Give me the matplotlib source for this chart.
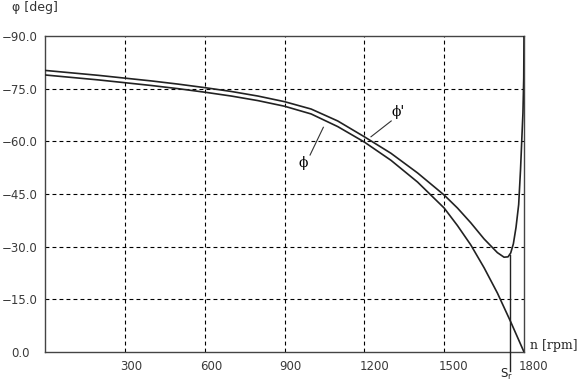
import numpy as np
import matplotlib
matplotlib.use('Agg')
import matplotlib.pyplot as plt
import matplotlib.ticker as tkr
from matplotlib.transforms import ScaledTranslation

# phase angle vs. speed
n_phi = [0, 100, 200, 300, 400, 500, 600, 700, 800, 900, 1000, 1100, 1200, 1300, 1400,
         1500, 1550, 1600, 1650, 1700, 1750, 1800]
phi = [-78.9, -78.2, -77.5, -76.7, -75.9, -75.0, -74.0, -72.9, -71.6, -70.0, -67.8, -64.2, -59.8,
       -54.6, -48.4, -41.0, -36.0, -30.5, -24.0, -16.8, -8.6, 0.0]

n_phi2 = [0, 100, 200, 300, 400, 500, 600, 700, 800, 900, 1000, 1100, 1200, 1300, 1400,
          1500, 1550, 1600, 1650, 1700, 1725, 1740, 1750, 1760, 1770, 1780, 1787, 1792,
          1796, 1799, 1800]
phi2 = [-80.2, -79.5, -78.8, -78.0, -77.2, -76.3, -75.3, -74.2, -72.9, -71.3, -69.2, -65.8, -61.3,
        -56.6, -51.0, -44.7, -41.0, -36.8, -32.2, -28.3, -27.0, -27.1, -28.2, -30.8, -35.5, -42.0,
        -52.0, -61.0, -68.0, -78.0, -90.0]

n_sr = 1746
phi2_sr = -27.6

x_ticks = [300, 600, 900, 1200, 1500, 1800]
y_ticks = [0, -15, -30, -45, -60, -75, -90]

figure = plt.figure(figsize=(5.82, 3.83), dpi=100)
axis = figure.add_axes([45/582, 1 - 352/383, 479/582, 316/383])

axis.set_xlim(0, 1800)
axis.set_ylim(0, -90)

axis.xaxis.set_major_locator(tkr.FixedLocator(x_ticks))
axis.yaxis.set_major_locator(tkr.FixedLocator(y_ticks))
axis.yaxis.set_major_formatter(tkr.FuncFormatter(lambda v, p: ('%.1f' % v).replace('-', '\u2212')))
axis.xaxis.set_major_formatter(tkr.FuncFormatter(lambda v, p: '%d' % v))

axis.tick_params(length=0, labelsize=8.5, labelcolor='#3a3a3a')
axis.tick_params(axis='y', pad=18)
axis.tick_params(axis='x', pad=6)
for lab in axis.get_yticklabels():
    lab.set_ha('center')
offset = ScaledTranslation(-5/100, 0, figure.dpi_scale_trans)
for lab in axis.get_xticklabels():
    lab.set_ha('left')
    lab.set_transform(lab.get_transform() + offset)

for g in x_ticks[:-1]:
    axis.axvline(g, color='k', lw=0.8, ls=(0, (3.5, 2.8)), zorder=1)
for g in y_ticks[1:-1]:
    axis.axhline(g, color='k', lw=0.8, ls=(0, (3.5, 2.8)), zorder=1)

for s in axis.spines.values():
    s.set_color('#444444')
    s.set_linewidth(1.0)

axis.plot(n_phi, phi, color='#222222', lw=1.2, zorder=3)
axis.plot(n_phi2, phi2, color='#222222', lw=1.2, zorder=3)

# slip marker Sr
axis.plot([n_sr, n_sr], [phi2_sr, 5.5], color='#222222', lw=1.0, clip_on=False, zorder=3)

# labels with leader lines
axis.plot([1301, 1225], [-65.8, -61.3], color='#333333', lw=0.8)
axis.text(1327, -68.4, 'ϕ\'', family='DejaVu Serif', fontsize=10, ha='center', va='center')
axis.plot([996, 1046], [-56.1, -64.0], color='#333333', lw=0.8)
axis.text(970, -53.8, 'ϕ', family='DejaVu Serif', fontsize=10, ha='center', va='center')

figure.text(12/582, 1 - 7/383, 'φ [deg]', fontsize=9, color='#333333', va='center', ha='left')
figure.text(530/582, 1 - 345/383, 'n [rpm]', family='DejaVu Serif', fontsize=9, color='#222222',
            va='center', ha='left')
figure.text(507/582, 1 - 382/383, 'S$_\\mathregular{r}$', fontsize=8.5, color='#222222',
            va='bottom', ha='center')

figure.savefig('out.png', dpi=100)
